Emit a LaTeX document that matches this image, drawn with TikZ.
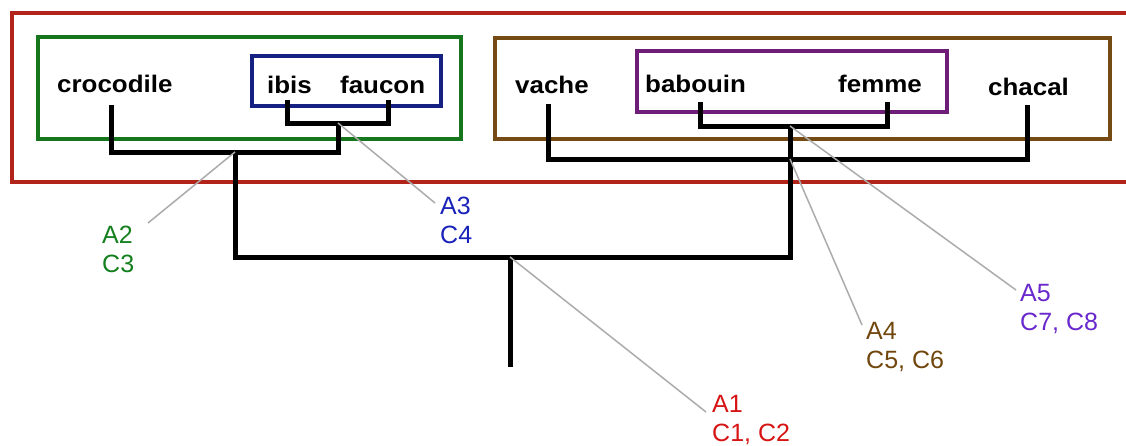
\documentclass[tikz,border=0pt]{standalone}
\usepackage{fontspec}
\setmainfont{Liberation Sans}
\newfontfamily\wordfont[FakeStretch=1.08]{Liberation Sans}
\definecolor{cRedBox}{RGB}{178,36,26}
\definecolor{cGreenBox}{RGB}{22,118,30}
\definecolor{cBlueBox}{RGB}{22,32,130}
\definecolor{cBrownBox}{RGB}{118,74,20}
\definecolor{cPurpleBox}{RGB}{110,30,120}
\definecolor{cRedTxt}{RGB}{215,20,20}
\definecolor{cGreenTxt}{RGB}{20,128,30}
\definecolor{cBlueTxt}{RGB}{25,35,185}
\definecolor{cBrownTxt}{RGB}{112,70,12}
\definecolor{cPurpleTxt}{RGB}{105,40,205}
\definecolor{cLeader}{RGB}{172,172,172}
\begin{document}
\begin{tikzpicture}[x=1pt,y=-1pt,
  grp/.style={line width=4pt,line join=miter},
  tree/.style={line width=5pt,black,line join=miter},
  word/.style={font=\wordfont\bfseries\fontsize{24}{28}\selectfont,inner sep=0pt,anchor=base west},
  lab/.style={font=\fontsize{25}{29}\selectfont,inner sep=0pt,anchor=north west,align=left},
  leader/.style={draw=cLeader,line width=1.5pt}]
\clip (0,0) rectangle (1126,445);
\fill[white] (0,0) rectangle (1126,445);
% group boxes
\draw[grp,cRedBox] (12,13) rectangle (1145,182);
\draw[grp,cGreenBox] (38,37) rectangle (461,139);
\draw[grp,cBlueBox] (252,56) rectangle (441,106);
\draw[grp,cBrownBox] (495,38) rectangle (1110,139);
\draw[grp,cPurpleBox] (637,51) rectangle (947,112);
% words
\node[word] (croc) at (57,92) {crocodile};
\node[word] (ibis) at (267,93) {ibis};
\node[word] (fauc) at (340,93) {faucon};
\node[word] (vach) at (515,93) {vache};
\node[word] (babo) at (645,92) {babouin};
\node[word] (femm) at (838,92) {femme};
\node[word] (chac) at (988,95) {chacal};
% stem tops
\coordinate (tCroc) at (111,105);
\coordinate (tIbis) at (287,100);
\coordinate (tFauc) at (388,100);
\coordinate (tVach) at (548,104);
\coordinate (tBabo) at (700,102);
\coordinate (tFemm) at (887,102);
\coordinate (tChac) at (1027,105);
% junctions
\coordinate (j3) at (338,123);
\coordinate (j2) at (235,152);
\coordinate (j5) at (790,126);
\coordinate (j4) at (790,159);
\coordinate (j1) at (510,257);
\coordinate (root) at (510,367);
% tree
\draw[tree] (tIbis) |- (j3) -| (tFauc);
\draw[tree] (tCroc) |- (j2) -| (j3);
\draw[tree] (tBabo) |- (j5) -| (tFemm);
\draw[tree] (tVach) |- (j4) -| (tChac);
\draw[tree] (j2) |- (j1) -| (j5);
\draw[tree] (j1) -- (root);
% labels
\node[lab,text=cRedTxt] (a1) at (712,395) {A1\\C1, C2};
\node[lab,text=cGreenTxt] (a2) at (102,226) {A2\\C3};
\node[lab,text=cBlueTxt] (a3) at (440,197) {A3\\C4};
\node[lab,text=cBrownTxt] (a4) at (866,322) {A4\\C5, C6};
\node[lab,text=cPurpleTxt] (a5) at (1020,284) {A5\\C7, C8};
% leader ends
\coordinate (e1) at (706,412);
\coordinate (e2) at (148,223);
\coordinate (e3) at (435,203);
\coordinate (e4) at (862,325);
\coordinate (e5) at (1016,290);
\draw[leader] (j1) -- (e1);
\draw[leader] (j2) -- (e2);
\draw[leader] (j3) -- (e3);
\draw[leader] (j4) -- (e4);
\draw[leader] (j5) -- (e5);
\end{tikzpicture}
\end{document}
